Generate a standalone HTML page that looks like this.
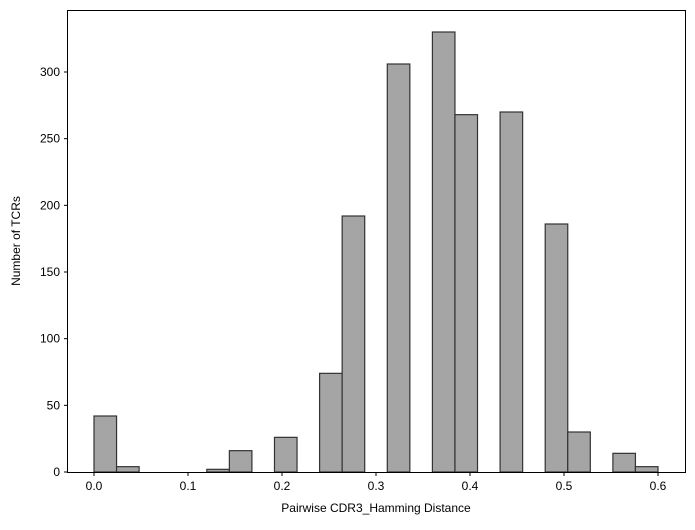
<!DOCTYPE html>
<html><head><meta charset="utf-8"><style>
html,body{margin:0;padding:0;background:#fff;}
svg text{font-family:"Liberation Sans","DejaVu Sans",sans-serif;font-size:12px;fill:#000;}
</style></head><body>
<svg id="chart" width="695" height="525" xmlns="http://www.w3.org/2000/svg">
<rect x="0" y="0" width="695" height="525" fill="#fff"/>
<g id="bars"></g>
<rect x="67.5" y="10.5" width="618" height="462" fill="none" stroke="#000" stroke-width="1"/>
<g id="xticks"></g>
<g id="yticks"></g>
<text x="376" y="512" text-anchor="middle">Pairwise CDR3_Hamming Distance</text>
<text transform="translate(20,241) rotate(-90)" text-anchor="middle">Number of TCRs</text>
</svg>
<script>
const counts = [42,4,0,0,0,2,16,0,26,0,74,192,0,306,0,330,268,0,270,0,186,30,0,14,4];
const binStart = 0.0;
const binEnd = 0.6;
const xTicks = [0.0,0.1,0.2,0.3,0.4,0.5,0.6];
const xTickLabels = ["0.0","0.1","0.2","0.3","0.4","0.5","0.6"];
const yTicks = [0,50,100,150,200,250,300];

const X0=94, XPX=940; // px per unit
const xs = v => X0 + (v - 0) * XPX;
const Y0=472, YPX=400/300;
const ys = v => Y0 - v * YPX;
const NS="http://www.w3.org/2000/svg";
const bars=document.getElementById('bars');
const w=(binEnd-binStart)/counts.length;
counts.forEach((c,i)=>{
  if(c<=0) return;
  const r=document.createElementNS(NS,'rect');
  const x1=xs(binStart+i*w), x2=xs(binStart+(i+1)*w);
  r.setAttribute('x',x1);r.setAttribute('y',ys(c));
  r.setAttribute('width',x2-x1);r.setAttribute('height',ys(0)-ys(c));
  r.setAttribute('fill','#a5a5a5');r.setAttribute('stroke','#333');r.setAttribute('stroke-width','1.2');
  
  
  bars.appendChild(r);
});
const xt=document.getElementById('xticks');
xTicks.forEach((v,i)=>{
  const x=xs(v);
  const l=document.createElementNS(NS,'line');
  l.setAttribute('x1',x);l.setAttribute('x2',x);l.setAttribute('y1',472.5);l.setAttribute('y2',476);l.setAttribute('stroke','#000');
  
  
  xt.appendChild(l);
  const t=document.createElementNS(NS,'text');
  t.setAttribute('x',x);t.setAttribute('y',490);t.setAttribute('text-anchor','middle');t.textContent=xTickLabels[i];
  
  
  xt.appendChild(t);
});
const yt=document.getElementById('yticks');
yTicks.forEach(v=>{
  const y=ys(v);
  const l=document.createElementNS(NS,'line');
  l.setAttribute('x1',64);l.setAttribute('x2',67.5);l.setAttribute('y1',y);l.setAttribute('y2',y);l.setAttribute('stroke','#000');
  
  
  yt.appendChild(l);
  const t=document.createElementNS(NS,'text');
  t.setAttribute('x',60);t.setAttribute('y',y+4);t.setAttribute('text-anchor','end');t.textContent=String(v);
  
  
  yt.appendChild(t);
});
</script>
</body></html>
